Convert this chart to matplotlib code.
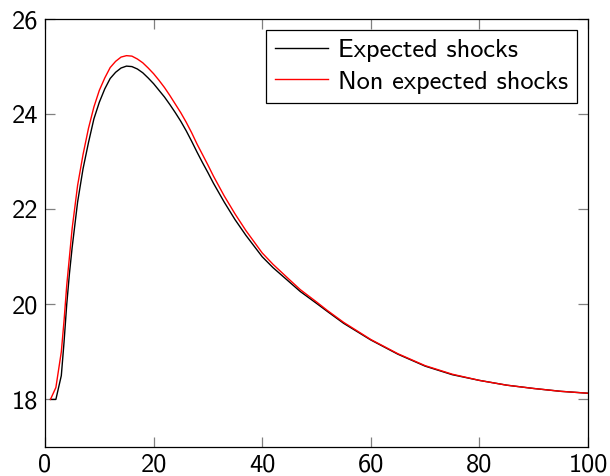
import matplotlib
matplotlib.use("Agg")
import matplotlib.pyplot as plt

# =========================================================
# data
# =========================================================
t = [1, 2, 3, 3.5, 4, 4.5, 5, 6, 7, 8, 9, 10, 11, 12, 13, 14, 15, 16, 17,
     18, 19, 20, 21, 22, 23, 24, 25, 26, 27, 28, 29, 30, 31, 33, 35, 37,
     40, 42, 45, 47, 50, 52, 55, 60, 65, 70, 75, 80, 85, 90, 95, 100]

expected = [18.0, 18.0, 18.5, 19.2, 20.0, 20.65, 21.2, 22.15, 22.85, 23.4,
            23.9, 24.25, 24.53, 24.75, 24.88, 24.97, 25.01, 25.0, 24.95,
            24.87, 24.76, 24.64, 24.5, 24.36, 24.2, 24.03, 23.85, 23.65,
            23.43, 23.2, 22.98, 22.77, 22.55, 22.15, 21.78, 21.45, 21.0,
            20.77, 20.47, 20.27, 20.02, 19.85, 19.6, 19.25, 18.95, 18.7,
            18.52, 18.4, 18.3, 18.23, 18.17, 18.13]

non_expected = [18.0, 18.25, 19.0, 19.65, 20.4, 21.0, 21.6, 22.5, 23.15,
                23.7, 24.15, 24.5, 24.76, 24.98, 25.11, 25.2, 25.23, 25.22,
                25.16, 25.08, 24.97, 24.85, 24.71, 24.56, 24.39, 24.21,
                24.03, 23.83, 23.61, 23.37, 23.15, 22.93, 22.7, 22.28, 21.9,
                21.55, 21.08, 20.84, 20.52, 20.31, 20.05, 19.87, 19.62, 19.26,
                18.96, 18.71, 18.53, 18.4, 18.3, 18.23, 18.17, 18.13]

x_ticks = [0, 20, 40, 60, 80, 100]
y_ticks = [18, 20, 22, 24, 26]

# =========================================================
# plotting
# =========================================================
plt.rcParams['font.family'] = ['cmss10', 'DejaVu Sans']
plt.rcParams['font.size'] = 19

fig = plt.figure(figsize=(6.1, 4.76), dpi=100)
ax = fig.add_axes([0.0738, 0.061, 0.8902, 0.899])

ax.plot(t, expected, color='black', lw=1.0, label='Expected shocks')
ax.plot(t, non_expected, color='red', lw=1.0, label='Non expected shocks')

ax.set_xlim(0, 100)
ax.set_ylim(17, 26)
ax.set_xticks(x_ticks)
ax.set_yticks(y_ticks)
ax.tick_params(direction='in', length=7.5, width=0.9, color='#808080',
               top=True, right=True, pad=5, labelsize=19)
for s in ax.spines.values():
    s.set_linewidth(0.9)

leg = ax.legend(loc='upper right', fancybox=False, edgecolor='black',
                framealpha=1, fontsize=19, handlelength=2.0,
                handletextpad=0.4, borderpad=0.35, labelspacing=0.3,
                borderaxespad=0.4)
leg.get_frame().set_linewidth(0.9)

plt.savefig('out.png', dpi=100)
